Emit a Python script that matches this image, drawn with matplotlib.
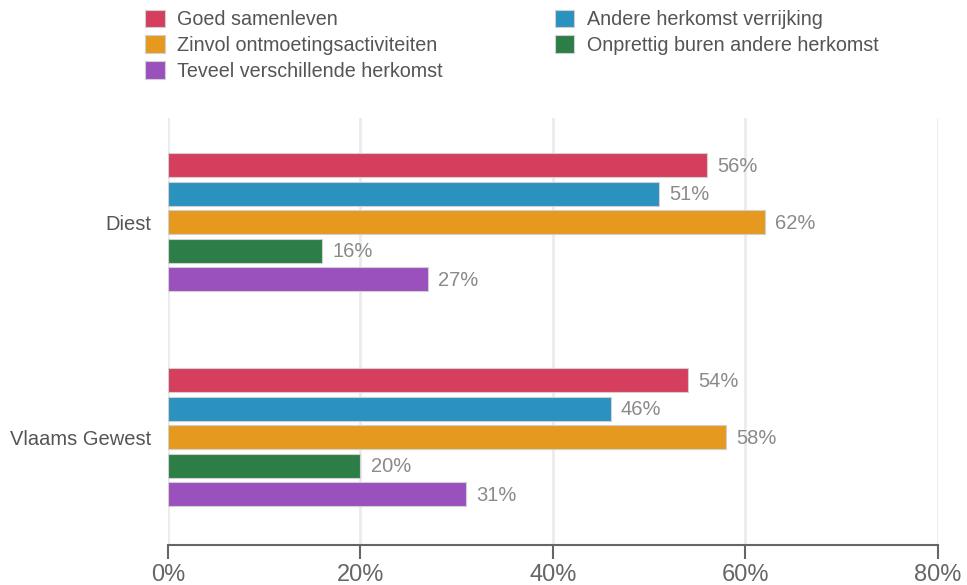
import matplotlib.pyplot as plt
from matplotlib.patches import Patch
import numpy as np

plt.rcParams["font.family"] = ["Liberation Sans", "DejaVu Sans"]

categories = ["Diest", "Vlaams Gewest"]
series_names = [
    "Goed samenleven",
    "Andere herkomst verrijking",
    "Zinvol ontmoetingsactiviteiten",
    "Onprettig buren andere herkomst",
    "Teveel verschillende herkomst",
]
values = {
    "Goed samenleven": [56, 54],
    "Andere herkomst verrijking": [51, 46],
    "Zinvol ontmoetingsactiviteiten": [62, 58],
    "Onprettig buren andere herkomst": [16, 20],
    "Teveel verschillende herkomst": [27, 31],
}
colors = ["#d63e5e", "#2b91bf", "#e59a1f", "#2d7e46", "#9a50bd"]
x_ticks = [0, 20, 40, 60, 80]


def main():
    fig = plt.figure(figsize=(9.67, 5.85), dpi=100)
    ax = fig.add_axes([0.1737, 0.0684, 0.7963, 0.7296])

    y = np.arange(len(categories))
    step = 0.1326
    height = 0.112
    for i, name in enumerate(series_names):
        offs = (i - 2) * step
        bars = ax.barh(y + offs, values[name], height=height, color=colors[i],
                       edgecolor="#d0d0d0", linewidth=0.8, zorder=3)
        for b, v in zip(bars, values[name]):
            ax.text(v + 1.05, b.get_y() + b.get_height() / 2 + 0.005, f"{v}%",
                    va="center", ha="left", fontsize=14.5, color="#8a8a8a")

    ax.set_xlim(0, 80)
    ax.set_ylim(1.502, -0.484)
    ax.set_yticks(y)
    ax.set_yticklabels(categories, fontsize=14.5, color="#555555")
    ax.tick_params(axis="y", length=0, pad=12)
    ax.set_xticks(x_ticks)
    ax.set_xticklabels([f"{t}%" for t in x_ticks], fontsize=17, color="#666666")
    ax.tick_params(axis="x", length=10, width=1.5, color="#666666", pad=4)
    ax.grid(axis="x", color="#ebebeb", linewidth=2, zorder=0)
    for side in ["top", "right", "left"]:
        ax.spines[side].set_visible(False)
    ax.spines["bottom"].set_color("#666666")
    ax.spines["bottom"].set_linewidth(1.5)

    order = [0, 2, 4, 1, 3]
    handles = [Patch(facecolor=colors[i], edgecolor="#d0d0d0", linewidth=0.8) for i in order]
    labels = [series_names[i] for i in order]
    fig.legend(handles, labels, ncol=2, loc="upper left",
               bbox_to_anchor=(0.1315, 1.014), frameon=False, fontsize=14.2,
               labelcolor="#555555", handlelength=1.0, handleheight=1.0,
               handletextpad=0.65, columnspacing=5.66, labelspacing=0.32)

    plt.savefig("out.png", dpi=100)
    plt.close()


if __name__ == "__main__":
    main()
